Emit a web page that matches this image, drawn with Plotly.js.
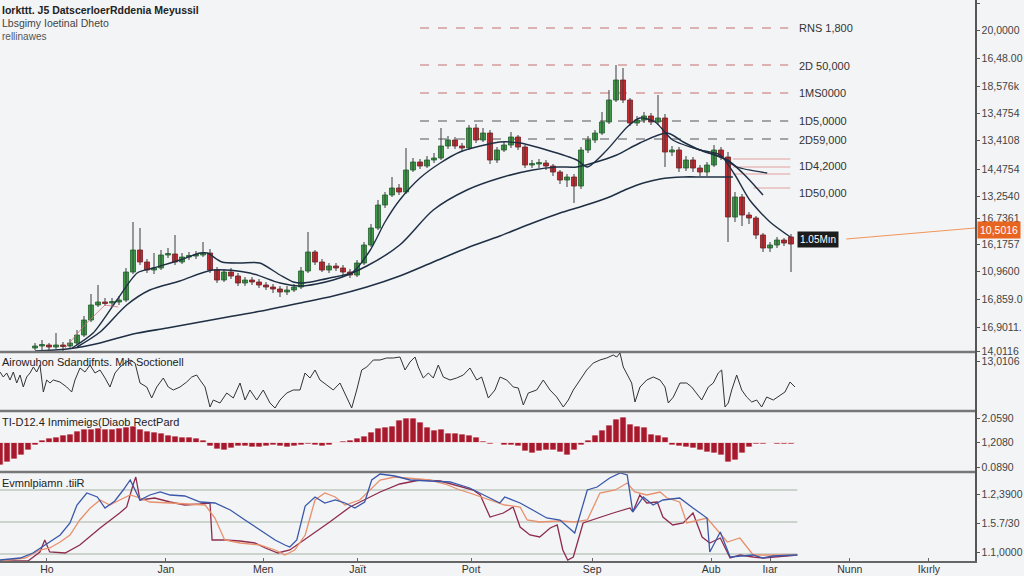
<!DOCTYPE html>
<html><head><meta charset="utf-8">
<script src="https://cdn.plot.ly/plotly-3.0.1.min.js"></script>
<style>html,body{margin:0;padding:0;background:#f3f4f6;}#chart{width:1024px;height:576px;}</style>
</head><body><div id="chart"></div>
<script>
// ---------- DATA ----------
const candleStartDay = 5;
const candleOpen = [4,6,7,5,7,6,9,17,32,47, 50,49,50,52,80,102,90,82,84,97, 98,90,95,96,97,99,82,72,80,76, 69,72,70,67,65,63,60,62,65,81,
 100,90,82,86,84,80,77,89,107,124, 147,157,164,160,182,190,186,192,194,206, 212,206,204,224,212,219,192,202,207,215,
 205,187,188,189,186,180,172,175,166,202, 212,219,230,252,272,252,229,232,236,230, 234,200,202,184,192,184,180,187,202,195,
 135,155,137,134,117,104,107,112,115];
const candleHigh = [9,12,9,19,10,13,22,36,58,67, 54,54,56,84,130,124,93,99,102,104, 117,99,100,101,110,103,85,83,84,79, 75,75,73,70,68,66,66,68,85,120,
 102,93,89,89,87,83,92,110,128,152, 160,175,168,204,194,193,196,199,224,216, 215,209,227,228,224,222,205,210,220,217,
 207,192,193,192,188,182,178,178,205,216, 222,240,262,287,284,254,236,240,239,257, 238,206,205,196,195,187,190,207,205,200,
 160,158,140,136,119,110,115,114,118];
const candleLow = [2,1,2,3,1,3,7,15,30,45, 46,45,47,50,78,87,79,78,82,94, 87,88,92,93,95,79,69,70,73,66, 66,67,64,62,59,55,57,60,63,79,
 87,80,79,81,77,74,75,87,105,122, 144,155,157,158,180,183,184,189,192,203, 203,201,202,209,210,188,189,200,204,202,
 184,184,184,182,176,168,165,149,163,199, 209,217,228,250,249,226,226,229,227,227, 185,196,180,181,180,176,176,185,192,110,
 130,126,128,113,100,100,104,106,80];
const candleClose = [6,7,5,7,6,9,17,32,47,50, 49,50,52,80,102,90,82,84,97,98, 90,95,96,97,99,82,72,80,76,69, 72,70,67,65,63,60,62,65,81,100,
 90,82,86,84,80,77,89,107,124,147, 157,164,160,182,190,186,192,194,206,212, 206,204,224,212,219,192,202,207,215,205,
 187,188,189,186,180,172,175,166,202,212, 219,230,252,272,252,229,232,236,230,234, 200,202,184,192,184,180,187,202,195,135,
 155,137,134,117,104,107,112,109,108];

// moving averages (day, value)
const maFastX = [10.3,13.3,16.7,19.6,21.9,25.7,28.6,29.6,31.7,34.3,37.1,40,41.9,43.3,47.1,50.4,52.9,55,57.1,60,62.9,65.7,68.6,71.4,74.3,78.1,82.4,83.9,86.7,89.6,91.4,93.6,96.1,100,102.9,105,107.1,110,112.9];
const maFastY = [4,19,52,79,84,92,99,99,90,89,89,77,70,69,74,80,102,130,152,174,189,200,206,210,209,202,192,185,202,225,234,230,212,202,197,177,152,130,115];
const maMidX = [11,14.3,18.1,21.4,25.7,30.4,35.7,40,42.9,47.6,52.4,57.1,61.9,66.7,71.4,76.1,79.6,82.4,84.7,88.1,91.4,95.3,97.6,100,103.9,106.1,109];
const maMidY = [5,20,47,62,71,82,79,69,66,72,86,107,142,162,174,182,185,185,189,197,209,219,210,202,192,179,157];
const maSlowX = [5,9.6,14.3,19,23.9,28.6,33.3,38.1,42.9,47.6,52.4,57.1,61.9,66.7,71.4,76.1,80,83.3,86.7,89.6,91.9,94.3,97.6,100.4,104.7];
const maSlowY = [1,3,9,18,24,30,36,42,49,56,65,76,90,104,116,129,139,146,154,163,169,173,175,175,175];
const maExtraX = [98.6,102.9,105.3,109.6];
const maExtraY = [205,195,185,179];
const maThinX = [9.3,12.1,15,16.9];
const maThinY = [4,27,47,45];

// level lines
const dashLevels = [324,287,259,231,213];
const dashStartDay = 60, dashEndDay = 112.6;
const shortLevels = [193,185,178];
const shortStartDay = 104.7, shortEndDay = 112.9;
const shortLevel2 = 164, short2StartDay = 107.6;
const levelLabelVals = [324,286,259,231,212,186,159];
const levelLabelTexts = ["RNS 1,800","2D 50,000","1MS0000","1D5,0000","2D59,000","1D4,2000","1D50,000"];
const labelDay = 113.9;
const lastPriceText = "1.05Mın";
const lastPriceVal = 113;
const axisPriceText = "10,5016";
const axisPriceVal = 122;
const priceLineX = [120.9, 139.3];
const priceLineY = [113, 124];

// oscillator panel
const oscDays = [0,0.47,0.96,1.43,1.9,2.39,2.86,3.33,3.81,4.29, 4.76,5.24,5.71,6.19,6.67,7.14,7.61,8.57,9.53,10.24,
 10.71,11.43,12.14,12.86,13.57,14.29,15,15.71,16.43,17.14, 17.86,18.57,19.29,20,20.96,21.67,22.39,23.33,24.04,24.76,
 25.71,26.67,27.39,28.1,28.57,29.29,30,30.47,31.43,32.39, 33.33,34.29,35,35.71,36.67,37.61,38.57,39.29,40,40.96,
 41.9,42.86,43.57,44.29,45,45.71,46.67,47.61,48.57,49.53, 50.24,50.96,51.67,52.39,53.33,54.29,55.24,56.19,57.14,57.86,
 58.57,59.29,59.76,60.47,61.19,61.9,62.61,63.33,64.29,65.24, 66.19,67.14,68.1,68.81,69.76,70.71,71.43,72.39,73.33,74.04,
 74.76,75.47,76.67,77.61,78.57,79.53,80.47,81.19,81.9,82.86, 83.81,84.76,85.71,86.67,87.61,88.1,88.57,89.04,89.53,90.24,
 90.71,91.43,92.39,93.33,94.29,95,95.47,96.19,97.14,98.1, 98.81,99.53,100.24,101.19,101.9,102.61,103.1,103.57,104.04,104.53,
 105.24,105.96,106.67,107.39,108.1,108.81,109.53,110.47,111.43,112.14, 112.86,113.57];
const oscVals = [39,34,38,31,39,28,36,24,34,38, 44,39,46,19,31,28,31,29,24,19,
 31,43,39,46,38,41,33,24,38,44, 48,51,48,28,24,13,24,33,24,21,
 24,29,34,36,31,24,4,11,8,18, 13,28,11,21,11,21,8,3,11,18,
 21,21,38,33,41,31,26,21,28,14, 3,21,41,44,51,51,53,53,54,41,
 49,54,44,33,38,33,46,34,31,33, 36,43,31,34,13,21,34,31,24,23,
 6,18,21,31,21,14,4,11,21,31, 41,48,51,53,56,54,58,44,38,28,
 9,24,31,34,31,24,8,14,28,28, 24,18,11,24,28,38,41,4,8,21,
 36,21,14,9,11,4,14,11,16,19, 29,24];

// histogram panel
const histStartDay = 0;
const histVals = [-22.5,-19.5,-16.5,-12.5,-7.5,
 -2.5,2.5,4.5,5.5,7.5,8.5,11.5,13.5,13.5,14.5,
 13.5,13.5,14.5,15.5,16.5,13.5,11.5,10.5,9.5,7.5,
 6.5,5.5,5.5,4.5,2.5,-3.5,-6.5,-7.5,-5.5,-3.5,
 -3.5,-4.5,-4.5,-3.5,-2.5,-3.5,-4.5,-3.5,-2.5,-1.5,
 -2.5,-3.5,-2.5,-0.5,1.5,2.5,4.5,6.5,10.5,14.5,
 15.5,16.5,22.5,24.5,24.5,20.5,15.5,12.5,13.5,9.5,
 9.5,8.5,7.5,5.5,1.5,-1.5,-0.5,-2.5,-2.5,-3.5,
 -8.5,-10.5,-8.5,-7.5,-7.5,-9.5,-12.5,-7.5,-2.5,2.5,
 7.5,12.5,17.5,23.5,25.5,18.5,16.5,15.5,8.5,7.5,
 5.5,-2.5,-3.5,-4.5,-5.5,-7.5,-9.5,-10.5,-12.5,-19.5,
 -17.5,-10.5,-4.5,-1.5,-1.5,-0.5,-1.5,-1.5,-1.5];

// stochastic panel
const stBlueX = [0,2.9,4.7,6.4,8.6,10,11,12.4,13.9,15,16.4,17.6,18.6,20,21.4,22.9,24.3,26.4,28.6,30.7,32.9,35,37.1,39.3,40.7,41.4,42.4,43.6,45,46.4,47.9,49.3,50.7,52.1,53.1,54.3,56.4,58.6,61.4,64.3,67.1,70,71.4,72.1,74.3,76.1,78.1,80,82.1,83.9,85.3,87.1,88.6,89.6,90.4,91.9,93.3,94.7,97.1,99,101,101.4,102.9,104.3,107.6,109,110.4,113.9];
const stBlueY = [1,3,8,16,26,38,56,68,64,53,60,71,81,61,66,69,66,65,59,58,51,41,31,21,16,14,21,55,64,58,61,58,53,59,81,87,85,81,80,79,73,63,58,64,58,51,43,41,28,71,74,83,88,86,49,64,56,61,63,53,43,9,29,4,6,3,5,6];
const stOrangeX = [0,3.6,5.7,7.1,8.6,10,11.4,12.9,14.3,15.7,17.1,18.6,20,21.4,24.3,27.1,29.3,30.7,32.1,34.3,37.1,39.3,40.7,42.1,43.6,45,46.4,47.9,49.3,51.4,52.9,54.3,56.4,58.6,61.4,63.6,65.7,67.1,70,72.1,74.3,75.3,77.1,80,82.1,83.9,85.7,87.9,89.6,90.7,92.4,94.3,95.3,97.1,98.1,101,103.9,105.7,107.6,110,113.9];
const stOrangeY = [0,3,11,13,19,26,41,53,61,56,61,66,63,59,58,57,56,43,21,18,16,11,6,11,26,61,68,64,56,61,71,81,84,83,81,77,71,68,61,56,54,41,39,40,39,41,68,71,78,69,66,69,63,59,38,43,19,23,6,6,6];
const stMaroonX = [0,4,5.7,6.4,7.1,9.3,11.4,14.3,17.1,18.1,19,19.4,20,22.1,24.3,26.4,28.6,30,30.3,32.1,34.3,36.4,37.9,39.7,41.4,44.3,47.1,50,52.1,54.3,57.1,60,62.9,65.7,67.6,68.6,70,71.9,73.3,74.3,75.7,77.1,78.6,79.6,80.4,81.1,81.9,83.3,85.3,87.6,90,90.4,91.4,92.4,93.9,94.7,96.1,97.6,99,100.3,101.4,102.9,104.3,105.7,107.6,109,113.9];
const stMaroonY = [0,0,9,21,9,8,16,33,48,54,76,84,61,63,59,56,57,58,21,21,20,18,13,8,11,25,39,54,61,69,77,81,80,75,71,66,44,48,54,34,26,24,33,36,11,1,4,38,43,48,53,49,66,58,59,44,36,38,48,24,18,23,3,6,4,3,6];
const stRefLevels = [71,39,7];
const stRefEndDay = 113.9;

// axes text
const xTickDays = [6.7,23.7,37.6,51.1,67.3,84.6,101.6,110,121.4,132.7];
const xTickText = ["Ho","Jan","Men","Jaït","Poıt","Sep","Aub","Iıar","Nunn","Ikırly"];
const y1TickVals = [349,322,294,266,239,212,183,156,134,108,81,53,25,1];
const y1TickText = ["15,0600","20,0000","16,48.00","18,576k","13,4754","13,4108","14,4754","13,2540","16,7361","16,1757","10,9600","16,859.0","16,9011.","14,0116"];
const y2TickVals = [50];
const y2TickText = ["13,0106"];
const y3TickVals = [24.5,0,-24.5];
const y3TickText = ["2.0590","1,2080","0.0890"];
const y4TickVals = [67,38,9];
const y4TickText = ["1.2,3900","1.5.7/30","1.1,0000"];
const titleLines = ["Iorkttt. J5 DatscerloerRddenia Meyussil","Lbsgimy Ioetinal Dheto","rellinawes"];
const panelLabels = ["Airowuhon Sdandifnts. Mık Soctionell","TI-D12.4 Inmimeigs(Diaob RectPard","Evmnlpiamn .tiiR"];

// ---------- BUILD ----------
const FONT = "Liberation Sans, Arial, sans-serif";
const PH = 561; // plot height in px
const dom4 = [0, 89/PH], dom3 = [89/PH, 150/PH], dom2 = [150/PH, 209/PH], dom1 = [209/PH, 1];
const candleDays = candleClose.map((_, i) => candleStartDay + i);
const histDays = histVals.map((_, i) => histStartDay + i);
const navy = '#1f2f44';

// candles: wicks + bodies
const wickX = [], wickY = [];
candleDays.forEach((d, i) => { wickX.push(d, d, null); wickY.push(candleLow[i], candleHigh[i], null); });
const isUp = candleClose.map((c, i) => c >= candleOpen[i]);
const bodyH = candleClose.map((c, i) => { const h = c - candleOpen[i]; return Math.abs(h) < 1.5 ? (h >= 0 ? 1.5 : -1.5) : h; });

const traces = [
  {type:'scatter', mode:'lines', x:wickX, y:wickY, line:{color:'#3a3a3a', width:1}, yaxis:'y', hoverinfo:'skip'},
  {type:'bar', x:candleDays, y:bodyH, base:candleOpen, width:0.72, yaxis:'y',
   marker:{color:isUp.map(u => u ? '#3d9b47' : '#c8282f'), line:{color:isUp.map(u => u ? '#1d6428' : '#7e1a20'), width:0.8}}},
  {type:'scatter', mode:'lines', x:maSlowX, y:maSlowY, line:{color:navy, width:1.6, shape:'spline', smoothing:0.8}, yaxis:'y'},
  {type:'scatter', mode:'lines', x:maMidX, y:maMidY, line:{color:navy, width:1.5, shape:'spline', smoothing:0.8}, yaxis:'y'},
  {type:'scatter', mode:'lines', x:maFastX, y:maFastY, line:{color:navy, width:1.4, shape:'spline', smoothing:0.7}, yaxis:'y'},
  {type:'scatter', mode:'lines', x:maExtraX, y:maExtraY, line:{color:navy, width:1.3, shape:'spline', smoothing:0.7}, yaxis:'y'},
  {type:'scatter', mode:'lines', x:maThinX, y:maThinY, line:{color:'#d4707a', width:0.8}, yaxis:'y'},
  {type:'scatter', mode:'lines', x:priceLineX, y:priceLineY, line:{color:'#f0955a', width:1.2}, yaxis:'y', cliponaxis:false},
  {type:'scatter', mode:'lines', x:oscDays, y:oscVals, line:{color:'#333333', width:1}, yaxis:'y2'},
  {type:'bar', x:histDays, y:histVals, width:0.9, marker:{color:'#a8192d', line:{color:'#ffffff', width:0.7}}, yaxis:'y3'},
  {type:'scatter', mode:'lines', x:stMaroonX, y:stMaroonY, line:{color:'#8e2c4e', width:1.3}, yaxis:'y4'},
  {type:'scatter', mode:'lines', x:stOrangeX, y:stOrangeY, line:{color:'#e8906c', width:1.3}, yaxis:'y4'},
  {type:'scatter', mode:'lines', x:stBlueX, y:stBlueY, line:{color:'#3a58aa', width:1.3}, yaxis:'y4'}
];

const shapes = [];
dashLevels.forEach((v, i) => {
  shapes.push({type:'line', xref:'x', yref:'y', x0:dashStartDay, x1:dashEndDay, y0:v, y1:v, layer:'below',
    line:{color: i < 3 ? '#c4706c' : '#555555', width:1.1, dash:'dash'}});
});
shortLevels.forEach(v => {
  shapes.push({type:'line', xref:'x', yref:'y', x0:shortStartDay, x1:shortEndDay, y0:v, y1:v, line:{color:'#e3a0a0', width:1}, layer:'below'});
});
shapes.push({type:'line', xref:'x', yref:'y', x0:short2StartDay, x1:shortEndDay, y0:shortLevel2, y1:shortLevel2, line:{color:'#e3a0a0', width:1}, layer:'below'});
stRefLevels.forEach(v => {
  shapes.push({type:'line', xref:'x', yref:'y4', x0:0, x1:stRefEndDay, y0:v, y1:v, line:{color:'#a3b3a3', width:1}, layer:'below'});
});
[dom2[1], dom3[1], dom4[1]].forEach(f => {
  shapes.push({type:'line', xref:'paper', yref:'paper', x0:0, x1:1, y0:f, y1:f, line:{color:'#777777', width:2.5}});
});

const annotations = [];
levelLabelVals.forEach((v, i) => {
  annotations.push({xref:'x', yref:'y', x:labelDay, y:v, text:levelLabelTexts[i], showarrow:false, xanchor:'left', yanchor:'middle',
    font:{family:FONT, size:11, color:'#333'}});
});
annotations.push({xref:'x', yref:'y', x:labelDay, y:lastPriceVal, text:lastPriceText, showarrow:false, xanchor:'left', yanchor:'middle',
  bgcolor:'#1c1c1c', borderpad:2, font:{family:FONT, size:10, color:'#ffffff'}});
annotations.push({xref:'paper', yref:'y', x:1, xshift:2, y:axisPriceVal, text:axisPriceText, showarrow:false, xanchor:'left', yanchor:'middle',
  bgcolor:'#e8651f', borderpad:2, font:{family:FONT, size:10.5, color:'#ffffff'}});
const tl = [[10, 10.5, 'bold', '#222'], [23, 10.5, 'normal', '#444'], [36, 10, 'normal', '#555']];
titleLines.forEach((t, i) => {
  annotations.push({xref:'paper', yref:'paper', x:0, y:1 - tl[i][0]/PH, text:t, showarrow:false, xanchor:'left', yanchor:'middle',
    font:{family:FONT, size:tl[i][1], color:tl[i][3], weight:tl[i][2]}});
});
const plY = [362, 422, 483];
panelLabels.forEach((t, i) => {
  annotations.push({xref:'paper', yref:'paper', x:0, y:1 - plY[i]/PH, text:t, showarrow:false, xanchor:'left', yanchor:'middle',
    font:{family:FONT, size:11, color:'#222'}});
});

const yBase = {side:'right', anchor:'x', showgrid:false, zeroline:false, showline:true, linecolor:'#555', linewidth:1.5,
  ticks:'outside', ticklen:3, tickcolor:'#555', tickfont:{family:FONT, size:10.5, color:'#444'}, tickmode:'array', fixedrange:true};

const layout = {
  width:1024, height:576, margin:{l:0, r:49, t:0, b:15},
  paper_bgcolor:'#f3f4f6', plot_bgcolor:'#f3f4f6', showlegend:false, barmode:'overlay',
  xaxis:{range:[0, 975/7], anchor:'y4', domain:[0,1], showgrid:false, zeroline:false, showline:true, linecolor:'#666', linewidth:1.5,
    ticks:'inside', ticklen:3, tickcolor:'#666', tickmode:'array', tickvals:xTickDays, ticktext:xTickText, ticklabelstandoff:-2,
    tickfont:{family:FONT, size:10.5, color:'#333'}},
  yaxis: Object.assign({}, yBase, {domain:dom1, range:[0,352], tickvals:y1TickVals, ticktext:y1TickText}),
  yaxis2: Object.assign({}, yBase, {domain:dom2, range:[0,59], tickvals:y2TickVals, ticktext:y2TickText}),
  yaxis3: Object.assign({}, yBase, {domain:dom3, range:[-29.5,31.5], tickvals:y3TickVals, ticktext:y3TickText}),
  yaxis4: Object.assign({}, yBase, {domain:dom4, range:[0,89], tickvals:y4TickVals, ticktext:y4TickText}),
  shapes:shapes, annotations:annotations
};

Plotly.newPlot('chart', traces, layout, {displayModeBar:false, staticPlot:true});
</script></body></html>
